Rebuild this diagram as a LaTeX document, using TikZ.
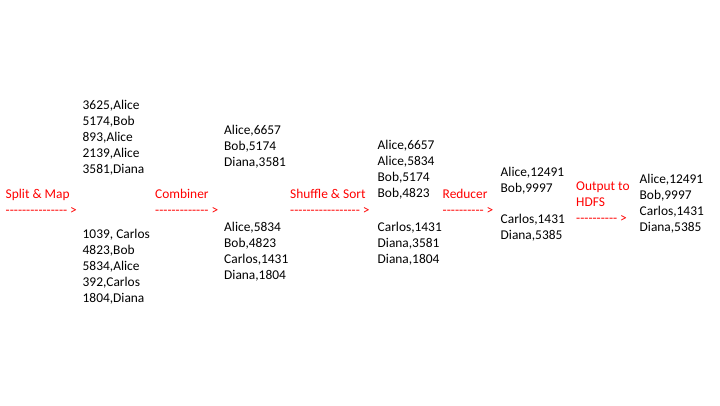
\documentclass[tikz,border=0pt]{standalone}
\usepackage{fontspec}
\setmainfont{Carlito}[Ligatures=TeXOff]

\begin{document}
\begin{tikzpicture}[x=1pt, y=-1pt,
		data/.style={anchor=base west, align=left, inner sep=0pt, font=\fontsize{13.4}{16}\selectfont},
		stage/.style={data, text=red}]
			\useasboundingbox (0, 0) rectangle (720, 405);
			% mapper output (base = last line)
			\node[data] (mapA) at (82.5, 173.5) {3625,Alice\\5174,Bob\\893,Alice\\2139,Alice\\3581,Diana};
			\node[data] (mapB) at (82.5, 302.5) {1039, Carlos\\4823,Bob\\5834,Alice\\392,Carlos\\1804,Diana};
			% combiner output
			\node[data] (combA) at (224, 166.5) {Alice,6657\\Bob,5174\\Diana,3581};
			\node[data] (combB) at (224, 279) {Alice,5834\\Bob,4823\\Carlos,1431\\Diana,1804};
			% sorted
			\node[data] (sortA) at (377.5, 197.5) {Alice,6657\\Alice,5834\\Bob,5174\\Bob,4823};
			\node[data] (sortB) at (377.5, 263) {Carlos,1431\\Diana,3581\\Diana,1804};
			% reducer output
			\node[data] (redA) at (500.5, 192) {Alice,12491\\Bob,9997};
			\node[data] (redB) at (500.5, 239.5) {Carlos,1431\\Diana,5385};
			% hdfs
			\node[data] (hdfs) at (639.5, 231.5) {Alice,12491\\Bob,9997\\Carlos,1431\\Diana,5385};
			% stages
			\node[stage] (split) at (5.5, 214.5) {Split \& Map\\--------------- >};
			\node[stage] (comb) at (155, 214.5) {Combiner\\------------- >};
			\node[stage] (shuf) at (290, 214.5) {Shuffle \& Sort\\----------------- >};
			\node[stage] (red) at (442.5, 214.5) {Reducer\\---------- >};
			\node[stage] (out) at (576, 222.5) {Output to\\HDFS\\---------- >};
		\end{tikzpicture}
\end{document}
